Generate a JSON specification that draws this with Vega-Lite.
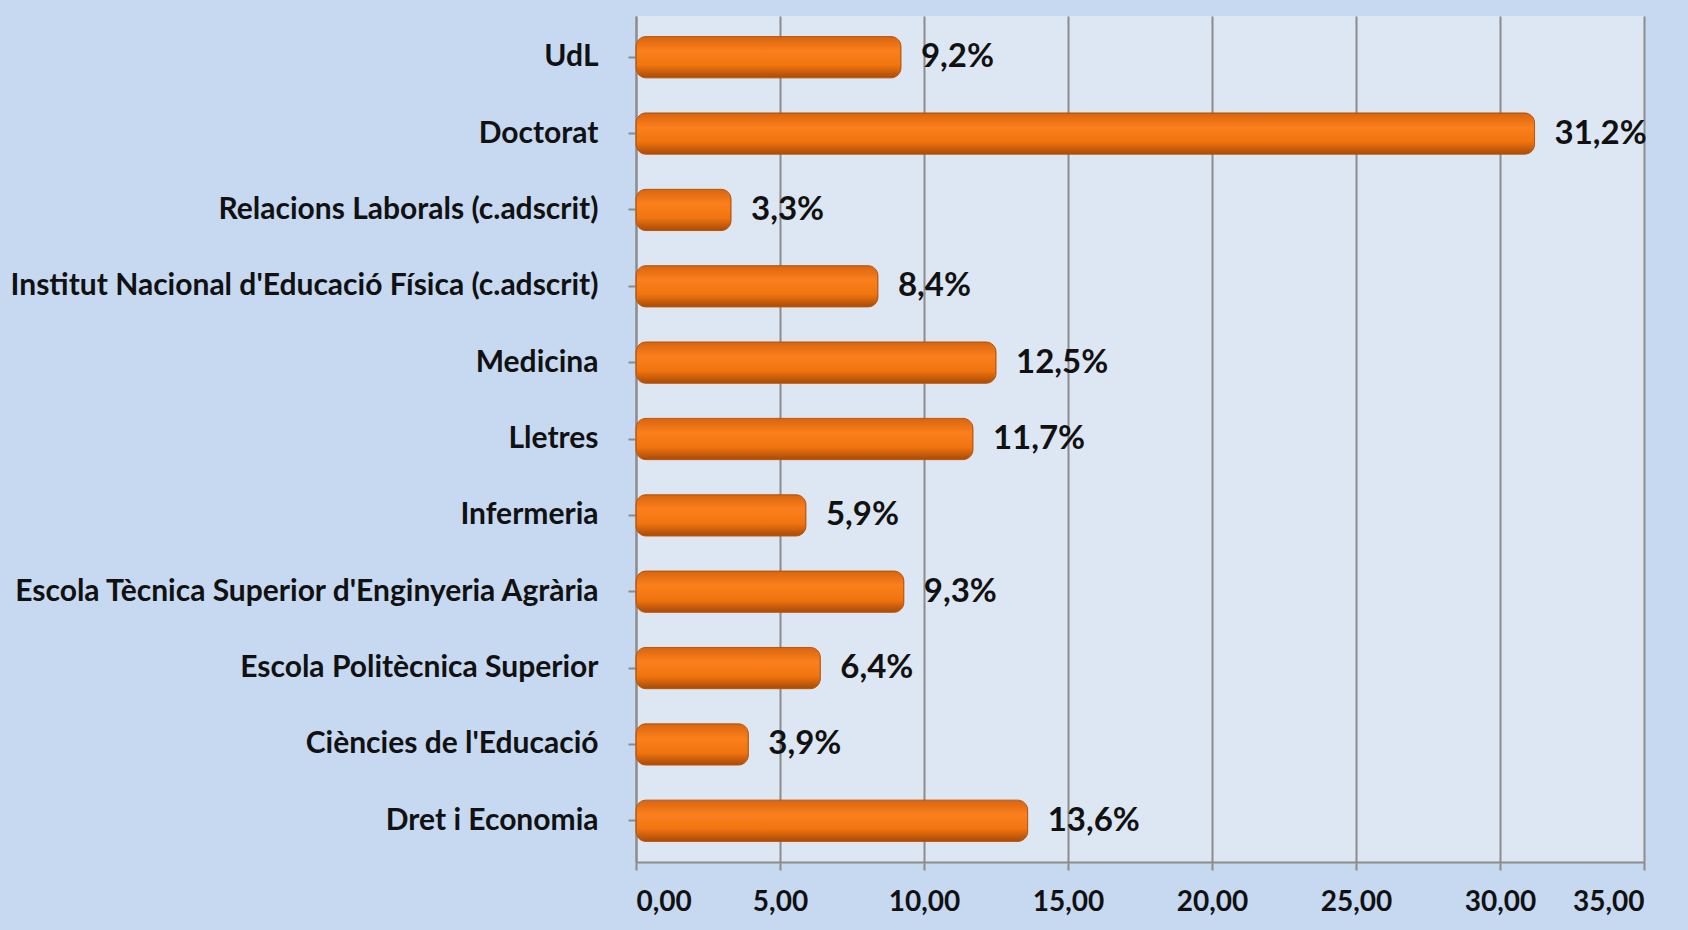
{
  "$schema": "https://vega.github.io/schema/vega-lite/v6.json",
  "autosize": "none",
  "width": 1008,
  "height": 846,
  "padding": {"left": 636, "top": 16, "right": 44, "bottom": 68},
  "background": "#c6d9f1",
  "data": {"values": [
    {"centre": "UdL", "pct": 9.2, "label": "9,2%"},
    {"centre": "Doctorat", "pct": 31.2, "label": "31,2%"},
    {"centre": "Relacions Laborals (c.adscrit)", "pct": 3.3, "label": "3,3%"},
    {"centre": "Institut Nacional d'Educació Física (c.adscrit)", "pct": 8.4, "label": "8,4%"},
    {"centre": "Medicina", "pct": 12.5, "label": "12,5%"},
    {"centre": "Lletres", "pct": 11.7, "label": "11,7%"},
    {"centre": "Infermeria", "pct": 5.9, "label": "5,9%"},
    {"centre": "Escola Tècnica Superior d'Enginyeria Agrària", "pct": 9.3, "label": "9,3%"},
    {"centre": "Escola Politècnica Superior", "pct": 6.4, "label": "6,4%"},
    {"centre": "Ciències de l'Educació", "pct": 3.9, "label": "3,9%"},
    {"centre": "Dret i Economia", "pct": 13.6, "label": "13,6%"}
  ]},
  "encoding": {
    "y": {
      "field": "centre", "type": "nominal", "sort": null, "title": null,
      "scale": {"paddingInner": 0.46, "paddingOuter": 0.27},
      "axis": {
        "labelFont": "Lato", "labelFontSize": 30, "labelFontWeight": "bold", "labelColor": "#111111",
        "labelLimit": 700, "labelPadding": 30, "domainColor": "#8c8c8c", "domainWidth": 2,
        "tickColor": "#8c8c8c", "tickWidth": 2, "tickSize": 8, "grid": false
      }
    },
    "x": {
      "field": "pct", "type": "quantitative", "title": null,
      "scale": {"domain": [0, 35], "nice": false},
      "axis": {
        "values": [0, 5, 10, 15, 20, 25, 30, 35],
        "labelExpr": "replace(format(datum.value, '.2f'), '.', ',')",
        "labelFont": "Lato", "labelFontSize": 28, "labelFontWeight": "bold", "labelColor": "#111111",
        "labelPadding": 18, "domainColor": "#8c8c8c", "domainWidth": 2,
        "tickColor": "#8c8c8c", "tickWidth": 2, "tickSize": 8,
        "grid": true, "gridColor": "#8c8c8c", "gridWidth": 2
      }
    }
  },
  "layer": [
    {
      "mark": {
        "type": "bar", "cornerRadius": 10,
        "color": {
          "gradient": "linear", "x1": 0, "y1": 0, "x2": 0, "y2": 1,
          "stops": [
            {"offset": 0, "color": "#d9650f"},
            {"offset": 0.35, "color": "#fb7f1c"},
            {"offset": 0.7, "color": "#f0740f"},
            {"offset": 1, "color": "#a84a08"}
          ]
        },
        "stroke": "#b8560c", "strokeWidth": 1
      }
    },
    {
      "mark": {"type": "text", "align": "left", "baseline": "middle", "dx": 20, "font": "Lato", "fontSize": 33, "fontWeight": "bold", "color": "#111111"},
      "encoding": {"text": {"field": "label"}}
    }
  ],
  "config": {
    "view": {"fill": "#dde7f3", "stroke": null}
  }
}
